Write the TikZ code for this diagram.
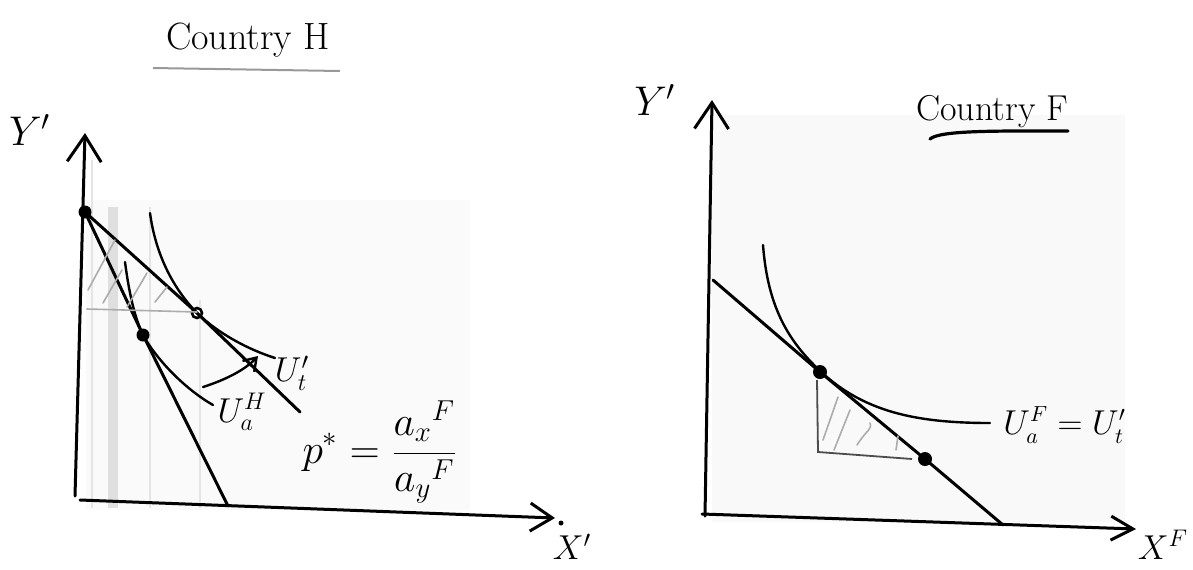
\documentclass[tikz,border=0pt]{standalone}
\usetikzlibrary{arrows.meta}
\begin{document}
\begin{tikzpicture}[x=0.5pt,y=-0.5pt,
  ink/.style={line width=1.5pt, line cap=round, line join=round},
  curveink/.style={line width=1.2pt, line cap=round},
  pencil/.style={gray!65, line width=0.8pt, line cap=round},
  axisarrow/.style={ink, -{Straight Barb[length=13pt,width=17pt,line width=1.5pt]}},
  dotmark/.style={circle, fill=black, inner sep=0pt, minimum size=6.5pt},
  lbl/.style={inner sep=0pt, font=\fontsize{18}{20}\selectfont},
  title/.style={inner sep=0pt}]
\useasboundingbox (0,0) rectangle (1193,569);
% paper tone
\fill[gray!4] (86,200) rectangle (470,510);
\fill[gray!5] (712,115) rectangle (1125,522);
% scan band (left)
\fill[gray!25] (108,207) rectangle (118,508);
\coordinate (g1a) at (92,160); \coordinate (g1b) at (92,508);
\coordinate (g3a) at (150,207); \coordinate (g3b) at (150,508);
\coordinate (g4a) at (200,300); \coordinate (g4b) at (200,508);
\draw[gray!20, line width=0.6pt] (g1a) -- (g1b) (g3a) -- (g3b) (g4a) -- (g4b);

% ---------------- Country H ----------------
\node[title, font=\fontsize{19}{21}\selectfont] (titleH) at (248,40) {Country H};
\coordinate (uHa) at (153,68); \coordinate (uHb) at (340,71);
\draw[line width=1pt, gray!80] (uHa) -- (uHb);

\coordinate (LYbot) at (75,496);
\coordinate (LYtop) at (85,133);
\coordinate (LXl) at (80,500);
\coordinate (LXr) at (555,518);
\draw[axisarrow] (LYbot) -- (LYtop);
\draw[axisarrow, -{Straight Barb[length=11pt,width=14pt,line width=1.5pt]}] (LXl) -- (LXr);
\node[circle, fill=black, inner sep=0pt, minimum size=2.5pt] (penmark) at (561,523) {};
\node[lbl, font=\fontsize{20}{22}\selectfont] (Ylab) at (30,130) {$Y'$};
\node[lbl] (Xlab) at (572,547) {$X'$};

\node[dotmark] (A) at (85,212) {};
\node[dotmark] (B) at (143,335) {};
\node[draw, circle, fill=white, line width=1.3pt, inner sep=0pt, minimum size=5pt] (C) at (197,313) {};
\coordinate (Aend) at (228,506);
\coordinate (Pend) at (300,412);
\draw[ink] (A.center) -- (B.center) -- (Aend);
\draw[ink] (A.center) -- (C.center) -- (Pend);

% U_a^H
\coordinate (ua1) at (125,262); \coordinate (ua2) at (213,405);
\draw[curveink] (ua1) .. controls (130,300) and (136,320) .. (B.center)
  .. controls (160,365) and (190,392) .. (ua2);
% U_t
\coordinate (ut1) at (150,213); \coordinate (ut2) at (275,358);
\draw[curveink] (ut1) .. controls (155,250) and (170,285) .. (C.center)
  .. controls (220,335) and (250,350) .. (ut2);
% shift arrow
\coordinate (ar1) at (203,387); \coordinate (ar2) at (258,356);
\draw[curveink, -{Straight Barb[length=6pt,width=8pt,line width=1.2pt]}] (ar1) .. controls (225,380) and (245,370) .. (ar2);

% hatching
\coordinate (h0a) at (87,309); \coordinate (h0b) at (197,312);
\draw[pencil] (h0a) -- (h0b);
\coordinate (h1a) at (88,290); \coordinate (h1b) at (115,240);
\coordinate (h2a) at (103,303); \coordinate (h2b) at (122,270);
\coordinate (h3a) at (127,307); \coordinate (h3b) at (147,273);
\coordinate (h4a) at (155,302); \coordinate (h4b) at (167,287);
\draw[pencil] (h1a) -- (h1b) (h2a) -- (h2b) (h3a) -- (h3b) (h4a) -- (h4b);

\node[lbl] (UtH) at (292,373) {$U'_t$};
\node[lbl] (UaH) at (242,412) {$U_a^H$};
\node[lbl, font=\fontsize{21}{23}\selectfont] (pstar) at (380,452) {$\displaystyle p^{*} = \frac{a_x{}^F}{a_y{}^F}$};

% ---------------- Country F ----------------
\node[title, font=\fontsize{18}{20}\selectfont] (titleF) at (992,112) {Country F};
\coordinate (uFa) at (930,139); \coordinate (uFb) at (1068,131);
\draw[line width=1.6pt, line cap=round] (uFa) .. controls (940,130) and (1000,131) .. (uFb);

\coordinate (RYbot) at (705,516);
\coordinate (RYtop) at (712,100);
\coordinate (RXl) at (702,514);
\coordinate (RXr) at (1136,529);
\draw[axisarrow] (RYbot) -- (RYtop);
\draw[axisarrow, -{Straight Barb[length=11pt,width=12pt,line width=1.5pt]}] (RXl) -- (RXr);
\node[lbl, font=\fontsize{20}{22}\selectfont] (RYlab) at (655,100) {$Y'$};
\node[lbl] (RXlab) at (1163,545) {$X^F$};

\coordinate (Rp1) at (713,280);
\coordinate (Rp2) at (1003,525);
\node[dotmark, minimum size=7pt] (D) at (820,372) {};
\node[dotmark, minimum size=7pt] (E) at (925,459) {};
\draw[ink] (Rp1) -- (D.center) -- (E.center) -- (Rp2);

\coordinate (uf1) at (763,245); \coordinate (uf2) at (990,423);
\coordinate (T) at (828,378);
\draw[curveink] (uf1) .. controls (768,310) and (790,345) .. (T)
  .. controls (870,413) and (920,423) .. (uf2);

% trade triangle
\coordinate (t1) at (817,380); \coordinate (t2) at (818,452); \coordinate (t3) at (912,459);
\draw[gray!60!black, line width=0.9pt] (t1) -- (t2) -- (t3);
\coordinate (k1a) at (823,440); \coordinate (k1b) at (838,397);
\coordinate (k2a) at (834,450); \coordinate (k2b) at (850,410);
\coordinate (k3a) at (857,445); \coordinate (k3b) at (870,423);
\coordinate (k4a) at (896,450); \coordinate (k4b) at (898,436);
\draw[pencil] (k1a) -- (k1b) (k2a) -- (k2b) (k3a) .. controls (868,428) and (872,430) .. (k3b) (k4a) -- (k4b);

\node[lbl, font=\fontsize{16}{18}\selectfont, anchor=west] (UF) at (1003,425) {$U_a^F = U'_t$};
\end{tikzpicture}
\end{document}
